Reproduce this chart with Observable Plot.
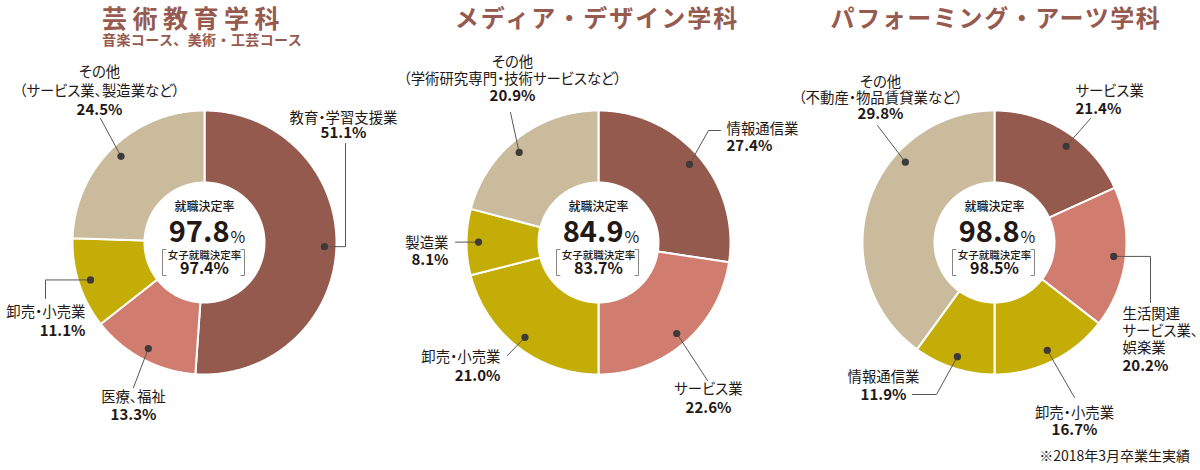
<!DOCTYPE html>
<html><head><meta charset="utf-8">
<script src="https://cdn.jsdelivr.net/npm/d3@7"></script>
<script src="https://cdn.jsdelivr.net/npm/@observablehq/plot@0.6"></script>
<style>
body{margin:0;background:#fff;font-family:"Noto Sans CJK JP",sans-serif;}
#wrap{position:relative;width:1200px;height:470px;overflow:hidden;background:#fff}
#head{position:relative;height:55px}
.t{position:absolute;color:#965a4f;font-weight:700;font-size:24px;line-height:1.1;white-space:nowrap}
.sub{position:absolute;color:#965a4f;font-weight:700;font-size:14px;line-height:1.1;white-space:nowrap;letter-spacing:0.4px}
#note{position:absolute;right:10px;top:448px;font-size:14px;line-height:1.1;color:#231815;white-space:nowrap}
#chart svg{display:block}
#chart svg text{font-feature-settings:"palt"}
</style></head>
<body><div id="wrap"><div id="head"></div><div id="chart"></div><div id="note"></div></div>
<script>
// ---------- data ----------
const departments = ["芸術教育学科", "メディア・デザイン学科", "パフォーミング・アーツ学科"];
const subtitle1 = "音楽コース、美術・工芸コース";
const employmentRate = [97.8, 84.9, 98.8];
const womenEmploymentRate = [97.4, 83.7, 98.5];

const industries1 = ["教育・学習支援業", "医療、福祉", "卸売・小売業", "その他"];
const notes1 = ["", "", "", "（サービス業、製造業など）"];
const shares1 = [51.1, 13.3, 11.1, 24.5];

const industries2 = ["情報通信業", "サービス業", "卸売・小売業", "製造業", "その他"];
const notes2 = ["", "", "", "", "（学術研究専門・技術サービスなど）"];
const shares2 = [27.4, 22.6, 21.0, 8.1, 20.9];

const industries3 = ["サービス業", "生活関連サービス業、娯楽業", "卸売・小売業", "情報通信業", "その他"];
const notes3 = ["", "", "", "", "（不動産・物品賃貸業など）"];
const shares3 = [21.4, 20.2, 16.7, 11.9, 29.8];
// slice sizes as actually drawn in the reference's third ring (differ from printed %)
const drawnArc3 = [18.2, 17.3, 14.5, 10.0, 40.0];

const footnote = "※2018年3月卒業生実績";

// ---------- layout / style (not data) ----------
const centersX = [204, 598, 994], centerY = 242;
const R_OUT = 132, R_IN = 60, R_DOT = 120;
const BROWN = "#955a4e", SALMON = "#d07d70", MUSTARD = "#c4ad06", BEIGE = "#c9bb9b";
const INK = "#231815", LEAD = "#5a5555";
const colorFor = (i, n) => i === 0 ? BROWN : i === 1 ? SALMON : i === n - 1 ? BEIGE : MUSTARD;

const layouts = [
  [
    {dx: 139, anchor: "middle", ny: -124.5, py: -109.5, leader: [[141, null], [141, -99]]},
    {dx: -71, anchor: "middle", ny: 155, py: 173, leader: [[-71, 145]]},
    {dx: -119, anchor: "end", ny: 70, py: 89, leader: [[-159, null], [-159, 56]]},
    {dx: -105, anchor: "middle", ny: -170, step: 18.5, py: -132.5, leader: [[-104, -124]]}
  ],
  [
    {dx: 128, anchor: "start", ny: -113, py: -96, leader: [[110, -112], [122, -112]]},
    {dx: 110, anchor: "middle", ny: 147, py: 166, leader: [[109, 138]]},
    {dx: -98, anchor: "end", ny: 115, py: 134, leader: [[-91, 113]]},
    {dx: -150, anchor: "end", ny: 1, py: 18, leader: [[-143, null]]},
    {dx: -86, anchor: "middle", ny: -180, step: 16.5, py: -146, leader: [[-88, -130]], frac: 0.45}
  ],
  [
    {dx: 81, anchor: "start", ny: -151, py: -133, leader: [[96, -124]], frac: 0.56},
    {dx: 128, anchor: "start", ny: 71.5, step: 17.3, py: 124, breaks: [4, 10], leader: [[156, null], [156, 60]]},
    {dx: 80, anchor: "middle", ny: 170.5, py: 188, leader: [[80, 155]]},
    {dx: -111, anchor: "middle", ny: 134.5, py: 153, leader: [[-58, 152], [-82, 152]]},
    {dx: -114, anchor: "middle", ny: -160, step: 16, py: -128, leader: [[-117, -117]], frac: 0.667}
  ]
];

const charts = [
  {names: industries1, notes: notes1, shares: shares1, arc: shares1},
  {names: industries2, notes: notes2, shares: shares2, arc: shares2},
  {names: industries3, notes: notes3, shares: shares3, arc: drawnArc3}
];

// ---------- header ----------
const head = document.getElementById("head");
function addDiv(cls, text, css) {
  const d = document.createElement("div"); d.className = cls; d.textContent = text;
  Object.assign(d.style, css); head.appendChild(d); return d;
}
addDiv("t", departments[0], {left: "102px", top: "4px", fontSize: "25px", letterSpacing: "5.5px"});
addDiv("sub", subtitle1, {left: "102px", top: "32px"});
addDiv("t", departments[1], {left: "597px", top: "4px", letterSpacing: "2px", transform: "translateX(-50%)"});
addDiv("t", departments[2], {left: "996px", top: "4px", letterSpacing: "1.6px", transform: "translateX(-50%)"});
document.getElementById("note").textContent = footnote;

// ---------- derived geometry ----------
const slicePts = [], dots = [], leaders = [], nameRows = [], pctRows = [], centerRows = [], brackets = [];
charts.forEach((c, ci) => {
  const cx = centersX[ci], cy = centerY;
  const total = d3.sum(c.arc);
  let acc = 0;
  c.arc.forEach((v, i) => {
    const a0 = acc / total * 2 * Math.PI, a1 = (acc + v) / total * 2 * Math.PI;
    acc += v;
    const key = ci + "-" + i, color = colorFor(i, c.arc.length);
    const n = Math.max(2, Math.ceil((a1 - a0) / (Math.PI / 360)));
    const pts = [];
    for (let k = 0; k <= n; k++) { const a = a0 + (a1 - a0) * k / n; pts.push([cx + R_OUT * Math.sin(a), cy - R_OUT * Math.cos(a)]); }
    for (let k = n; k >= 0; k--) { const a = a0 + (a1 - a0) * k / n; pts.push([cx + R_IN * Math.sin(a), cy - R_IN * Math.cos(a)]); }
    pts.push(pts[0]);
    pts.forEach(([x, y]) => slicePts.push({key, color, x, y}));

    const L = layouts[ci][i];
    const am = a0 + (a1 - a0) * (L.frac ?? 0.5);
    const dxp = cx + R_DOT * Math.sin(am), dyp = cy - R_DOT * Math.cos(am);
    dots.push({x: dxp, y: dyp});
    leaders.push({key, x: dxp, y: dyp});
    L.leader.forEach(([ox, oy]) => leaders.push({key, x: cx + ox, y: oy === null ? dyp : cy + oy}));

    let lines;
    if (L.breaks) {
      const s = c.names[i], b = [0, ...L.breaks, s.length];
      lines = b.slice(0, -1).map((p, j) => s.slice(p, b[j + 1]));
    } else lines = [c.names[i]];
    if (c.notes[i]) lines.push(c.notes[i]);
    const step = L.step ?? 17.5;
    lines.forEach((t, j) => nameRows.push({x: cx + L.dx, y: cy + L.ny + j * step, text: t, anchor: L.anchor}));
    pctRows.push({x: cx + L.dx, y: cy + L.py, text: c.shares[i].toFixed(1) + "%", anchor: L.anchor});
  });

  centerRows.push({kind: "label", x: cx, y: cy - 35, text: "就職決定率"});
  centerRows.push({kind: "big", x: cx + 25, y: cy - 10, text: employmentRate[ci].toFixed(1)});
  centerRows.push({kind: "pc", x: cx + 26, y: cy - 4.5, text: "%"});
  centerRows.push({kind: "wlabel", x: cx, y: cy + 13.5, text: "女子就職決定率"});
  centerRows.push({kind: "wnum", x: cx, y: cy + 26.5, text: womenEmploymentRate[ci].toFixed(1) + "%"});

  const t0 = cy + 7, t1 = cy + 33;
  [[cx - 38.5, cx - 42], [cx + 36.5, cx + 40]].forEach(([xi, xo], s) => {
    const k = ci + "b" + s;
    brackets.push({key: k, x: xi, y: t0}, {key: k, x: xo, y: t0}, {key: k, x: xo, y: t1}, {key: k, x: xi, y: t1});
  });
});

const textOf = (rows, anchor, opts) => Plot.text(rows.filter(d => d.anchor === anchor),
  {x: "x", y: "y", text: "text", textAnchor: anchor, lineAnchor: "middle", fill: INK, ...opts});
const centerText = (kind, opts) => Plot.text(centerRows.filter(d => d.kind === kind),
  {x: "x", y: "y", text: "text", lineAnchor: "middle", fill: INK, ...opts});

const svg = Plot.plot({
  width: 1200, height: 415, margin: 0,
  x: {domain: [0, 1200], range: [0, 1200], axis: null},
  y: {domain: [55, 470], range: [0, 415], axis: null},
  color: {type: "identity"},
  style: {fontFamily: '"Noto Sans CJK JP", sans-serif', background: "transparent", overflow: "visible"},
  marks: [
    Plot.line(slicePts, {x: "x", y: "y", z: "key", fill: "color", stroke: "white", strokeWidth: 2, curve: "linear"}),
    Plot.line(leaders, {x: "x", y: "y", z: "key", stroke: LEAD, strokeWidth: 1}),
    Plot.dot(dots, {x: "x", y: "y", r: 3.6, fill: "#3e3a39", stroke: "none"}),
    Plot.line(brackets, {x: "x", y: "y", z: "key", stroke: "#8a8585", strokeWidth: 1}),
    ...["start", "middle", "end"].map(a => textOf(nameRows, a, {fontSize: 14.4, fontWeight: 400})),
    ...["start", "middle", "end"].map(a => textOf(pctRows, a, {fontSize: 15, fontWeight: 700, ariaLabel: "pct"})),
    centerText("label", {fontSize: 12, fontWeight: 500, textAnchor: "middle"}),
    centerText("big", {fontSize: 29, fontWeight: 700, textAnchor: "end", ariaLabel: "bignum"}),
    centerText("pc", {fontSize: 16, fontWeight: 400, textAnchor: "start"}),
    centerText("wlabel", {fontSize: 10.5, fontWeight: 500, textAnchor: "middle"}),
    centerText("wnum", {fontSize: 16, fontWeight: 700, textAnchor: "middle", ariaLabel: "wnum"})
  ]
});
d3.select(svg).selectAll('g[aria-label="bignum"] text').attr("letter-spacing", "1.5px");
d3.select(svg).selectAll('g[aria-label="wnum"] text').attr("letter-spacing", "0.6px");
document.getElementById("chart").appendChild(svg);
</script>
</body></html>
